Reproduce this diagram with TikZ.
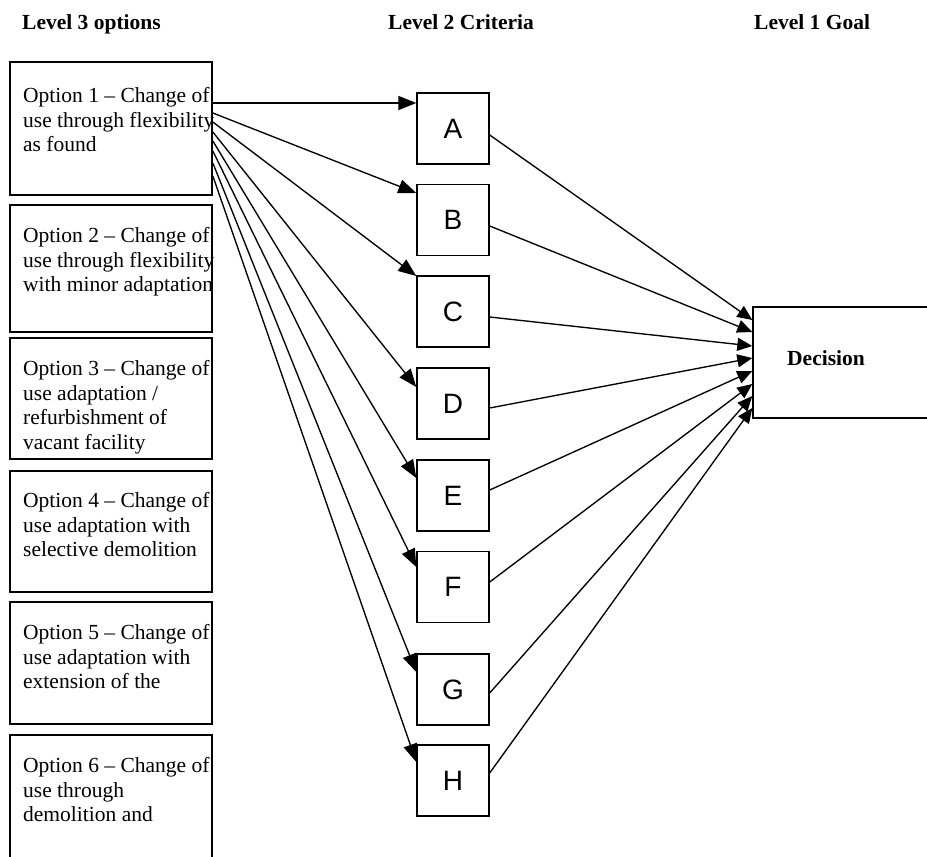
\documentclass[tikz,border=0pt]{standalone}
\usepackage{fontspec}
\setmainfont{Liberation Serif}
\newfontfamily\sansf{Liberation Sans}
\usetikzlibrary{arrows.meta}
\begin{document}
\begin{tikzpicture}[x=1pt,y=-1pt,
  optbox/.style={draw, line width=1.7pt, minimum width=202pt, inner sep=0pt},
  opttext/.style={anchor=north west, align=left, inner sep=0pt, font=\fontsize{21.5}{24.8}\selectfont},
  header/.style={anchor=base west, inner sep=0pt, font=\fontsize{21.5}{24}\selectfont\bfseries},
  critbox/.style={draw, line width=1.4pt, minimum width=72pt, minimum height=71pt, inner sep=0pt, font=\sansf\fontsize{28}{30}\selectfont},
  decbox/.style={draw, line width=1.4pt, minimum width=190pt, minimum height=111pt, inner sep=0pt},
  arr/.style={line width=1.35pt, -{Triangle[length=18pt,width=14pt]}},
  arr2/.style={line width=1.35pt, -{Triangle[length=15pt,width=13pt]}}
]
\useasboundingbox (0,0) rectangle (927,857);
\clip (0,0) rectangle (927,857);

% headers
\node[header] (h3) at (22,29) {Level 3 options};
\node[header] (h2) at (388,29) {Level 2 Criteria};
\node[header] (h1) at (754,29) {Level 1 Goal};

% option boxes
\node[optbox, minimum height=133pt] (o1) at (111,128.5) {};
\node[optbox, minimum height=127pt] (o2) at (111,268.5) {};
\node[optbox, minimum height=121pt] (o3) at (111,398.5) {};
\node[optbox, minimum height=121pt] (o4) at (111,531.5) {};
\node[optbox, minimum height=122pt] (o5) at (111,663) {};
\node[optbox, minimum height=135pt] (o6) at (111,802.5) {};

\node[opttext] (t1) at (23,87) {Option 1 – Change of\\use through flexibility\\as found};
\node[opttext] (t2) at (23,227) {Option 2 – Change of\\use through flexibility\\with minor adaptation};
\node[opttext] (t3) at (23,360) {Option 3 – Change of\\use adaptation /\\refurbishment of\\vacant facility};
\node[opttext] (t4) at (23,492) {Option 4 – Change of\\use adaptation with\\selective demolition};
\node[opttext] (t5) at (23,624) {Option 5 – Change of\\use adaptation with\\extension of the};
\node[opttext] (t6) at (23,757) {Option 6 – Change of\\use through\\demolition and};

% criteria boxes
\node[critbox] (A) at (453,128.5) {A};
\node[critbox] (B) at (453,220) {B};
\node[critbox] (C) at (453,311.5) {C};
\node[critbox] (D) at (453,403.5) {D};
\node[critbox] (E) at (453,495.5) {E};
\node[critbox] (F) at (453,587) {F};
\node[critbox] (G) at (453,689.5) {G};
\node[critbox] (H) at (453,780.5) {H};

% decision box
\node[decbox] (dec) at (848,362.5) {};
\node[anchor=base west, inner sep=0pt, font=\fontsize{21.5}{24}\selectfont\bfseries] (dect) at (787,365) {Decision};

% arrows from option 1 to criteria
\draw[arr] ([yshift=25.5pt]o1.east) -- ([yshift=25.5pt]A.west);
\draw[arr] ([yshift=15.5pt]o1.east) -- ([yshift=27pt]B.west);
\draw[arr] ([yshift=6.5pt]o1.east) -- ([yshift=35.5pt]C.west);
\draw[arr] ([yshift=-3.5pt]o1.east) -- ([yshift=16.5pt]D.west);
\draw[arr] ([yshift=-12.5pt]o1.east) -- ([yshift=17.5pt]E.west);
\draw[arr] ([yshift=-22.5pt]o1.east) -- ([yshift=20pt]F.west);
\draw[arr] ([yshift=-34.5pt]o1.east) -- ([yshift=17.5pt]G.west);
\draw[arr] ([yshift=-47.5pt]o1.east) -- ([yshift=18.5pt]H.west);

% arrows from criteria to decision
\draw[arr2] ([yshift=-6.5pt]A.east) -- ([yshift=42.5pt]dec.west);
\draw[arr2] ([yshift=-6pt]B.east) -- ([yshift=30.5pt]dec.west);
\draw[arr2] ([yshift=-5.5pt]C.east) -- ([yshift=16.5pt]dec.west);
\draw[arr2] ([yshift=-4.5pt]D.east) -- ([yshift=4.5pt]dec.west);
\draw[arr2] ([yshift=5.5pt]E.east) -- ([yshift=-8.5pt]dec.west);
\draw[arr2] ([yshift=5pt]F.east) -- ([yshift=-21.5pt]dec.west);
\draw[arr2] ([yshift=-3.5pt]G.east) -- ([yshift=-33.5pt]dec.west);
\draw[arr2] ([yshift=7.5pt]H.east) -- ([yshift=-45.5pt]dec.west);
\end{tikzpicture}
\end{document}
